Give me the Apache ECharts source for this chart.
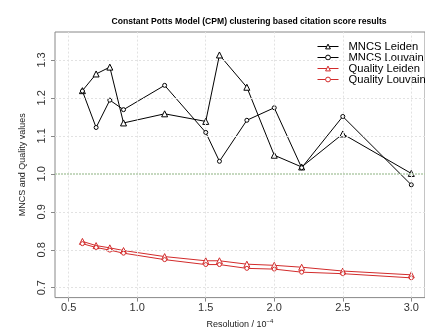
<!DOCTYPE html>
<html><head><meta charset="utf-8">
<script src="https://cdn.jsdelivr.net/npm/echarts@6/dist/echarts.min.js"></script>
<style>html,body{margin:0;padding:0;background:#fff}#c{width:425px;height:334px}</style>
</head><body><div id="c"></div>
<script>
const resolution = [0.6, 0.7, 0.8, 0.9, 1.2, 1.5, 1.6, 1.8, 2.0, 2.2, 2.5, 3.0];
const mncsLeiden   = [1.219, 1.263, 1.281, 1.134, 1.158, 1.138, 1.313, 1.228, 1.049, 1.018, 1.105, 1.001];
const mncsLouvain  = [1.218, 1.122, 1.194, 1.169, 1.233, 1.109, 1.033, 1.141, 1.174, 1.016, 1.151, 0.971];
const qualLeiden   = [0.822, 0.811, 0.805, 0.798, 0.782, 0.771, 0.771, 0.762, 0.759, 0.754, 0.744, 0.734];
const qualLouvain  = [0.816, 0.806, 0.799, 0.791, 0.774, 0.761, 0.761, 0.751, 0.749, 0.741, 0.737, 0.726];
const xTicks = [0.5, 1.0, 1.5, 2.0, 2.5, 3.0];
const yTicks = [0.7, 0.8, 0.9, 1.0, 1.1, 1.2, 1.3];
const refLine = 1.0;

const FONT = 'Liberation Sans, Arial, sans-serif';
const pair = a => a.map((v, i) => [resolution[i], v]);
function ser(name, data, color, symbol, size) {
  return {
    name, type: 'line', data: pair(data), symbol, symbolSize: size,
    showSymbol: true,
    lineStyle: { color, width: 1 },
    itemStyle: { color: '#fff', borderColor: color, borderWidth: 1 },
    emphasis: { disabled: true }, animation: false, z: 3
  };
}
const chart = echarts.init(document.getElementById('c'), null, { renderer: 'canvas' });
chart.setOption({
  animation: false,
  title: {
    text: 'Constant Potts Model (CPM) clustering based citation score results',
    left: 244, top: 12, textAlign: 'center',
    textStyle: { fontFamily: FONT, fontSize: 8.6, fontWeight: 'bold', color: '#000' }
  },
  legend: {
    orient: 'vertical', left: 312, top: 36, itemGap: 0, itemWidth: 21, itemHeight: 6,
    lineStyle: { width: 1 },
    itemStyle: { borderWidth: 1 },
    textStyle: { fontFamily: FONT, fontSize: 11.2, lineHeight: 11, color: '#000', padding: [0, 0, 0, 5] },
    data: ['MNCS Leiden', 'MNCS Louvain', 'Quality Leiden', 'Quality Louvain']
  },
  grid: { left: 55, top: 32, width: 378, height: 273, show: true, borderColor: '#888', borderWidth: 1, backgroundColor: 'transparent' },
  xAxis: {
    type: 'value', min: 0.4, max: 3.1,
    name: '{a|Resolution / 10}{s|−4}', nameLocation: 'middle', nameGap: 19,
    nameTextStyle: { rich: {
      a: { fontFamily: FONT, fontSize: 9, color: '#222' },
      s: { fontFamily: FONT, fontSize: 6, color: '#222', verticalAlign: 'top', padding: [0, 0, 6, 0] }
    } },
    axisLine: { show: false },
    axisTick: { show: true, customValues: xTicks, length: 4, lineStyle: { color: '#888' } },
    axisLabel: { customValues: xTicks, formatter: v => v.toFixed(1), fontFamily: FONT, fontSize: 11, color: '#333', margin: 5 },
    splitLine: { show: false }
  },
  yAxis: {
    type: 'value', min: 0.674, max: 1.3735,
    name: 'MNCS and Quality values', nameLocation: 'middle', nameGap: 28, nameRotate: 90,
    nameTextStyle: { fontFamily: FONT, fontSize: 9, color: '#222' },
    axisLine: { show: false },
    axisTick: { show: true, customValues: yTicks, length: 4, lineStyle: { color: '#888' } },
    axisLabel: { customValues: yTicks, rotate: 90, formatter: v => v.toFixed(1), fontFamily: FONT, fontSize: 11, color: '#333', margin: 8 },
    splitLine: { show: false }
  },
  series: [
    ser('MNCS Leiden', mncsLeiden, '#000', 'triangle', 6),
    ser('MNCS Louvain', mncsLouvain, '#000', 'circle', 4),
    ser('Quality Leiden', qualLeiden, '#d22b2b', 'triangle', 6),
    ser('Quality Louvain', qualLouvain, '#d22b2b', 'circle', 4),
    {
      type: 'line', data: [], silent: true, z: 1,
      markLine: {
        silent: true, symbol: 'none', animation: false, label: { show: false },
        data: [
          ...xTicks.map(v => ({ xAxis: v, lineStyle: { color: '#e2e2e2', type: [2, 2], width: 1 } })),
          ...yTicks.filter(v => v !== refLine).map(v => ({ yAxis: v, lineStyle: { color: '#e2e2e2', type: [2, 2], width: 1 } })),
          { yAxis: refLine, lineStyle: { color: '#b3ccaa', type: [2, 1], width: 1.5 } }
        ]
      }
    }
  ]
});
</script></body></html>
